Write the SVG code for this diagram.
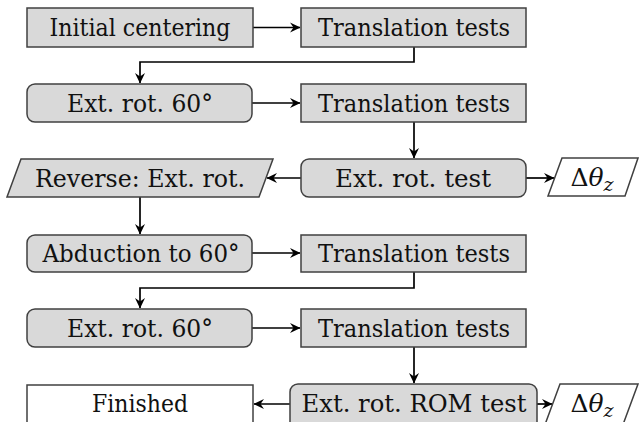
<svg xmlns="http://www.w3.org/2000/svg" width="639" height="422" viewBox="0 0 639 422">
<style>
.box{fill:#d9d9d9;stroke:#404040;stroke-width:1.5}
.wbox{fill:#ffffff;stroke:#404040;stroke-width:1.5}
.t{font-family:"DejaVu Serif","Liberation Serif",serif;font-size:25px;fill:#111;text-anchor:middle}
.c{fill:none;stroke:#000;stroke-width:1.7}
</style>
<defs>
<marker id="ah" viewBox="-11 -6 12 12" refX="0" refY="0" markerWidth="12" markerHeight="12" markerUnits="userSpaceOnUse" orient="auto">
<path d="M0.5,0 L-10,-5 L-6.5,0 L-10,5 Z" fill="#000"/>
</marker>
</defs>
<rect width="639" height="422" fill="#fff"/>
<g id="connectors">
<line class="c" x1="253" y1="27.5" x2="300" y2="27.5" marker-end="url(#ah)"/>
<polyline class="c" points="414,47 414,62 140,62 140,83" marker-end="url(#ah)"/>
<line class="c" x1="252" y1="103" x2="300" y2="103" marker-end="url(#ah)"/>
<line class="c" x1="414" y1="122" x2="414" y2="158" marker-end="url(#ah)"/>
<line class="c" x1="301" y1="178" x2="267" y2="178" marker-end="url(#ah)"/>
<line class="c" x1="526" y1="178" x2="554" y2="178" marker-end="url(#ah)"/>
<line class="c" x1="140" y1="197" x2="140" y2="234" marker-end="url(#ah)"/>
<line class="c" x1="252" y1="253" x2="300" y2="253" marker-end="url(#ah)"/>
<polyline class="c" points="414,272 414,288 140,288 140,308" marker-end="url(#ah)"/>
<line class="c" x1="252" y1="328" x2="300" y2="328" marker-end="url(#ah)"/>
<line class="c" x1="414" y1="347" x2="414" y2="383" marker-end="url(#ah)"/>
<line class="c" x1="290" y1="404" x2="254" y2="404" marker-end="url(#ah)"/>
<line class="c" x1="537" y1="404" x2="552" y2="404" marker-end="url(#ah)"/>
</g>
<g id="n1"><rect class="box" x="27" y="8" width="226" height="39"/><text class="t" x="140" y="36" textLength="181" lengthAdjust="spacingAndGlyphs">Initial centering</text></g>
<g id="n2"><rect class="box" x="301" y="8" width="225" height="39"/><text class="t" x="414" y="36" textLength="192" lengthAdjust="spacingAndGlyphs">Translation tests</text></g>
<g id="n3"><rect class="box" x="27" y="84" width="225" height="38" rx="8"/><text class="t" x="140" y="112" textLength="146" lengthAdjust="spacingAndGlyphs">Ext. rot. 60°</text></g>
<g id="n4"><rect class="box" x="301" y="84" width="225" height="38"/><text class="t" x="414" y="112" textLength="192" lengthAdjust="spacingAndGlyphs">Translation tests</text></g>
<g id="n5"><rect class="box" x="301" y="159" width="225" height="38" rx="8"/><text class="t" x="413" y="187" textLength="156" lengthAdjust="spacingAndGlyphs">Ext. rot. test</text></g>
<g id="n6"><polygon class="box" points="21,159 273,159 259,197 7,197"/><text class="t" x="140" y="187" textLength="210" lengthAdjust="spacingAndGlyphs">Reverse: Ext. rot.</text></g>
<g id="n7"><polygon class="wbox" points="562,158 638,158 625,196 548,196"/><text class="t" x="592" y="186" font-size="27"><tspan>Δ</tspan><tspan font-style="italic">θ</tspan><tspan font-style="italic" font-size="19" dy="5">z</tspan></text></g>
<g id="n8"><rect class="box" x="27" y="235" width="225" height="37" rx="8"/><text class="t" x="141" y="262" textLength="197" lengthAdjust="spacingAndGlyphs">Abduction to 60°</text></g>
<g id="n9"><rect class="box" x="301" y="235" width="225" height="37"/><text class="t" x="414" y="262" textLength="192" lengthAdjust="spacingAndGlyphs">Translation tests</text></g>
<g id="n10"><rect class="box" x="27" y="309" width="225" height="38" rx="8"/><text class="t" x="140" y="337" textLength="146" lengthAdjust="spacingAndGlyphs">Ext. rot. 60°</text></g>
<g id="n11"><rect class="box" x="301" y="309" width="225" height="38"/><text class="t" x="414" y="337" textLength="192" lengthAdjust="spacingAndGlyphs">Translation tests</text></g>
<g id="n12"><rect class="wbox" x="27" y="385" width="226" height="50"/><text class="t" x="140" y="412" textLength="96" lengthAdjust="spacingAndGlyphs">Finished</text></g>
<g id="n13"><rect class="box" x="290" y="384" width="247" height="50" rx="8"/><text class="t" x="414" y="412" textLength="225" lengthAdjust="spacingAndGlyphs">Ext. rot. ROM test</text></g>
<g id="n14"><polygon class="wbox" points="560,384 638,384 621,430 543,430"/><text class="t" x="592" y="412" font-size="27"><tspan>Δ</tspan><tspan font-style="italic">θ</tspan><tspan font-style="italic" font-size="19" dy="5">z</tspan></text></g>
</svg>
